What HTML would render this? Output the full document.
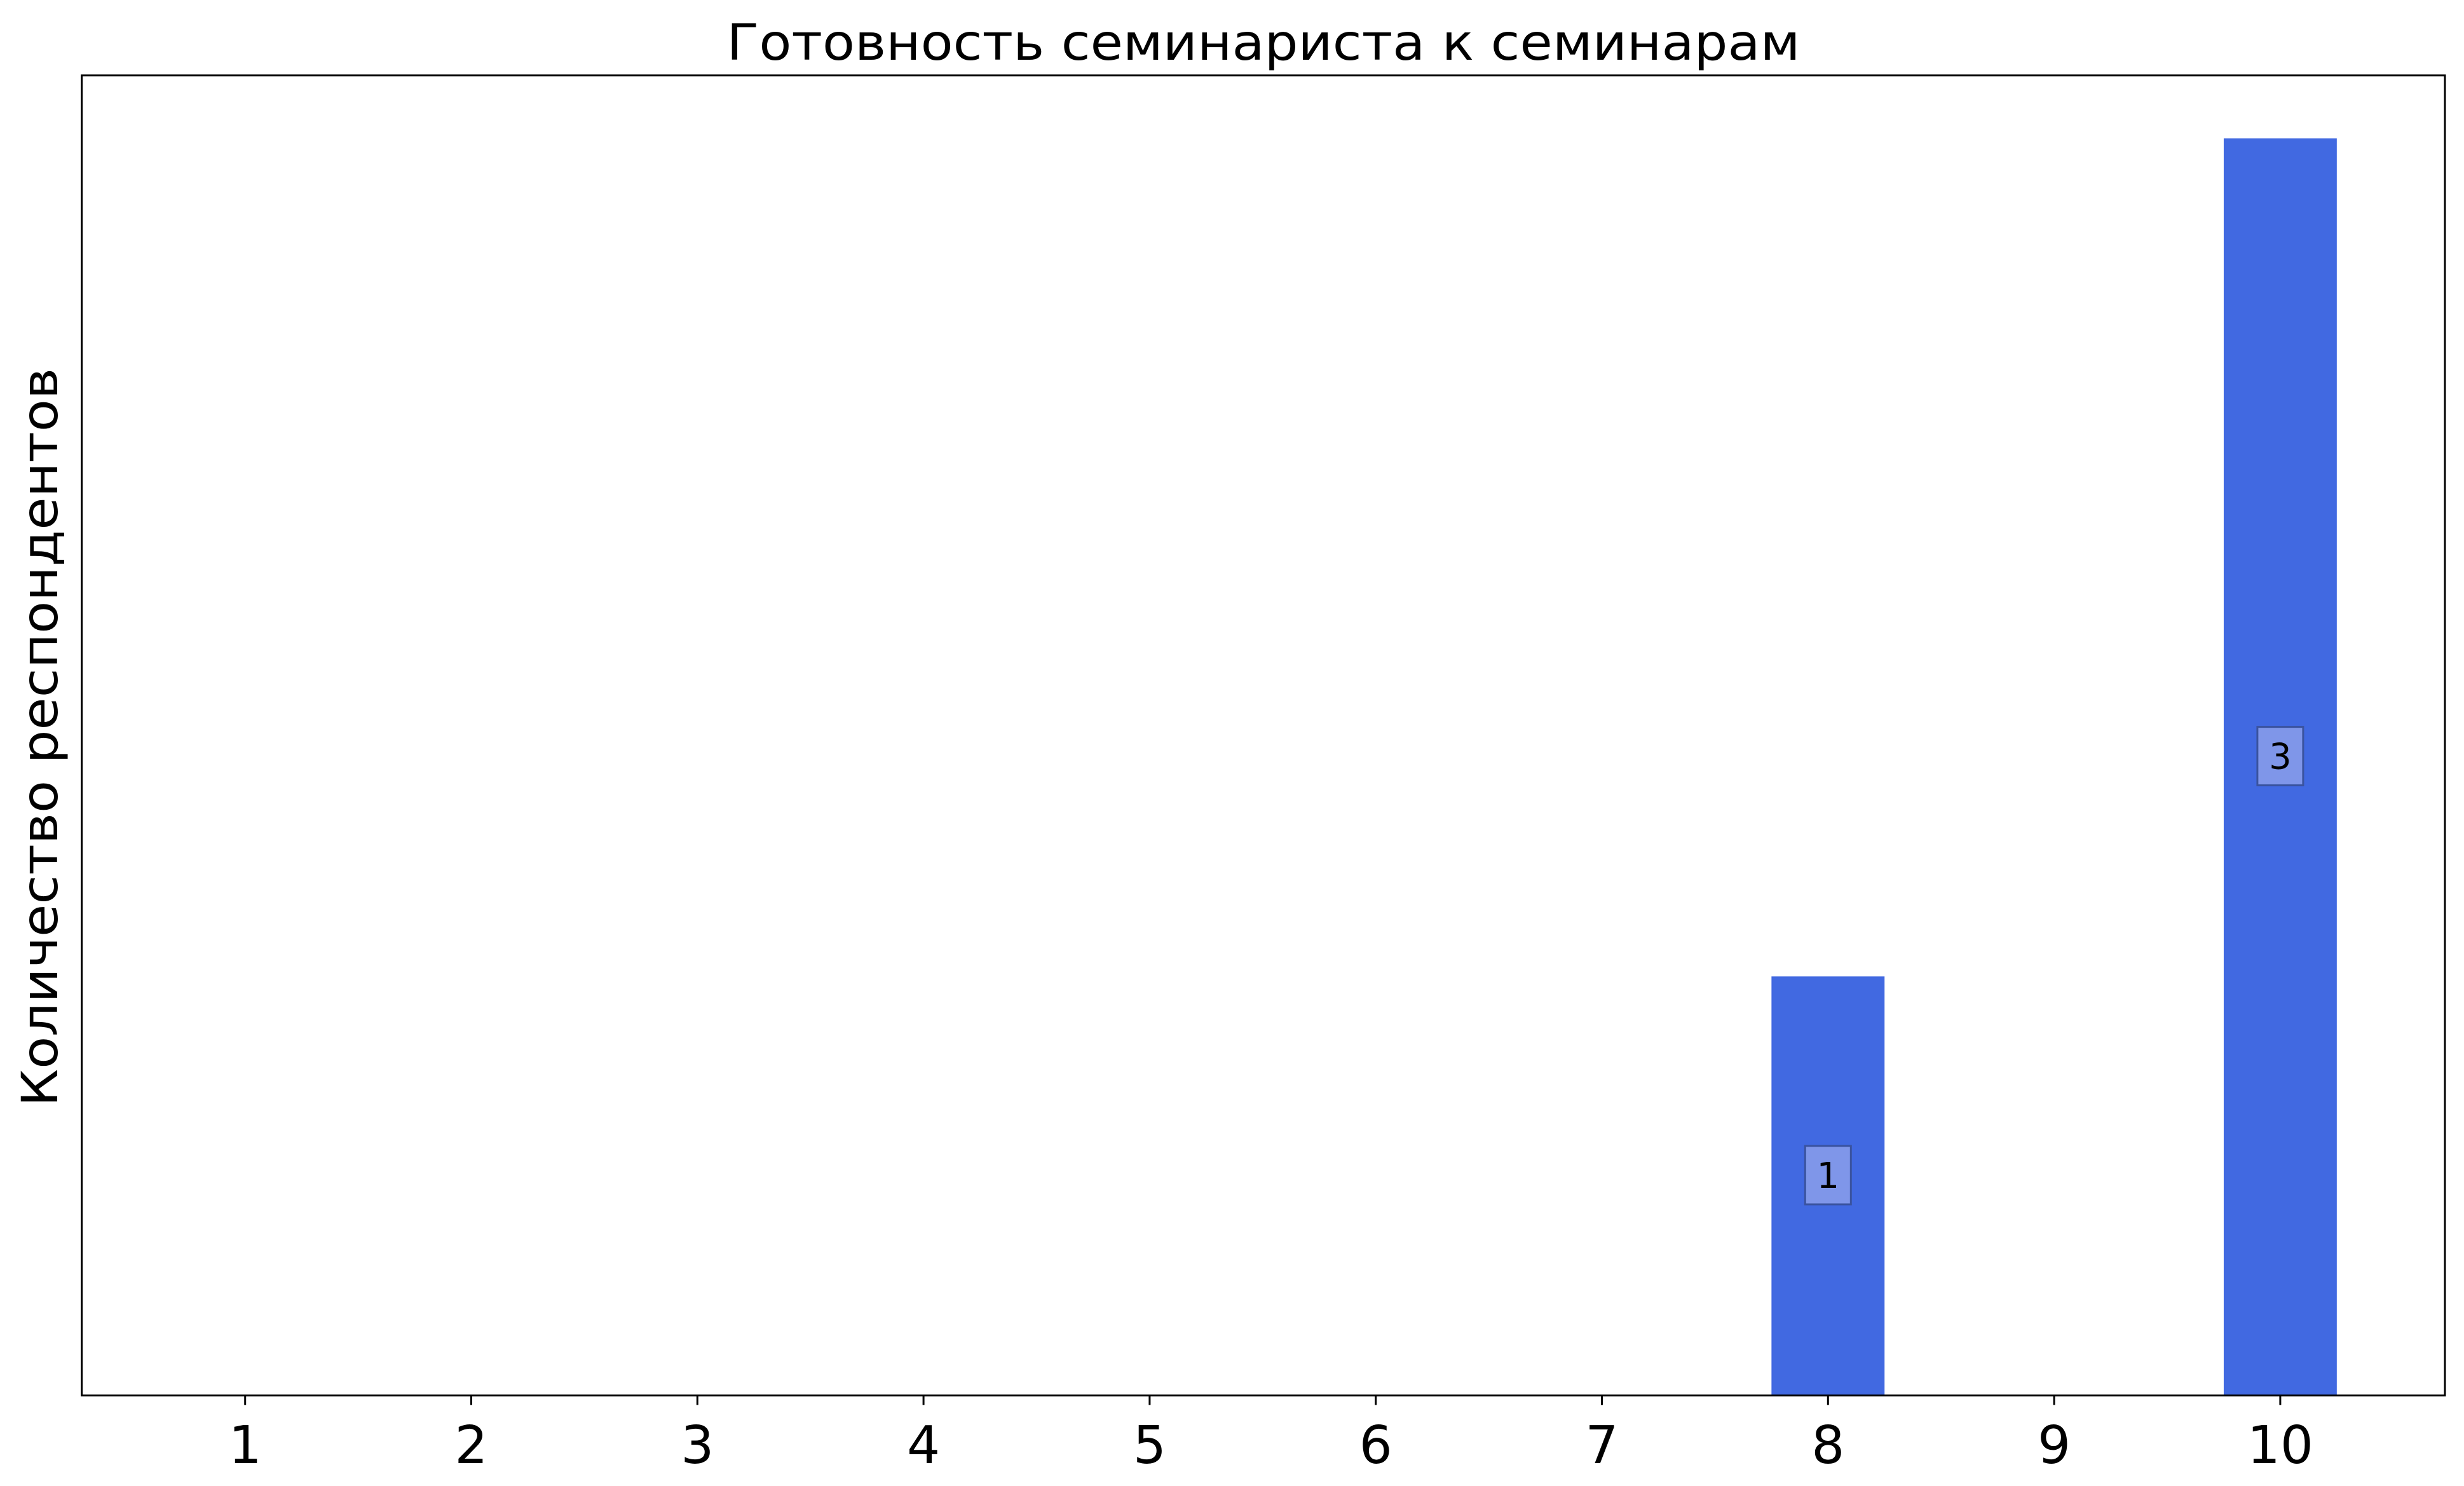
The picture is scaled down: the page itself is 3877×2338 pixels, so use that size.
<!DOCTYPE html>
<html><head><meta charset="utf-8"><style>
html,body{margin:0;padding:0;background:#fff;}
svg{display:block;font-family:"DejaVu Sans","Liberation Sans","Noto Sans CJK SC",sans-serif;}
</style></head><body>
<svg id="chart" width="3877" height="2338" viewBox="0 0 3877 2338" xmlns="http://www.w3.org/2000/svg">
<rect width="3877" height="2338" fill="#fff"/>
<text x="1988" y="94" font-size="78" text-anchor="middle" textLength="1689" lengthAdjust="spacingAndGlyphs">Готовность семинариста к семинарам</text>
<text transform="translate(90,1160) rotate(-90)" font-size="78" text-anchor="middle" textLength="1162" lengthAdjust="spacingAndGlyphs">Количество респондентов</text>
<g id="bars"></g>
<g id="ticks"></g>
<rect x="128.6" y="118.7" width="3718.4" height="2076.9" fill="none" stroke="#000" stroke-width="3"/>
</svg>
<script>
const categories = [1,2,3,4,5,6,7,8,9,10];
const counts = [0,0,0,0,0,0,0,1,0,3];
const tickLabels = ["1","2","3","4","5","6","7","8","9","10"];

const L=128.6,R=3847,T=118.7,B=2195.6;
const yMax=3.15;
const x0=385.7, step=355.8;
function xs(c){return x0+(c-1)*step;}
function ys(v){return B-(v/yMax)*(B-T);}
const NS="http://www.w3.org/2000/svg";
const bars=document.getElementById('bars');
const ticks=document.getElementById('ticks');
categories.forEach((c,i)=>{
  const v=counts[i];
  if(v>0){
    const r=document.createElementNS(NS,'rect');
    
    
    const w=step*0.5;
    r.setAttribute('x',xs(c)-w/2);r.setAttribute('y',ys(v));
    r.setAttribute('width',w);r.setAttribute('height',B-ys(v));
    r.setAttribute('fill','#4169e1');
    bars.appendChild(r);
    const cy=(ys(v)+B)/2-17;
    const box=document.createElementNS(NS,'rect');
    
    
    box.setAttribute('x',xs(c)-36);box.setAttribute('y',cy-46);
    box.setAttribute('width',72);box.setAttribute('height',92);
    box.setAttribute('fill','#7f96e9');box.setAttribute('stroke','#3a539f');box.setAttribute('stroke-width','3');
    bars.appendChild(box);
    const t=document.createElementNS(NS,'text');
    
    
    t.setAttribute('x',xs(c));t.setAttribute('y',cy+20);
    t.setAttribute('font-size','56');t.setAttribute('text-anchor','middle');
    t.textContent=String(v);
    bars.appendChild(t);
  }
  const tk=document.createElementNS(NS,'line');
  
  
  tk.setAttribute('x1',xs(c));tk.setAttribute('x2',xs(c));
  tk.setAttribute('y1',B);tk.setAttribute('y2',B+15);
  tk.setAttribute('stroke','#000');tk.setAttribute('stroke-width','3');
  ticks.appendChild(tk);
  const lb=document.createElementNS(NS,'text');
  
  
  lb.setAttribute('x',xs(c));lb.setAttribute('y',2302);
  lb.setAttribute('font-size','82');lb.setAttribute('text-anchor','middle');
  lb.textContent=tickLabels[i];
  ticks.appendChild(lb);
});
</script>
</body></html>
